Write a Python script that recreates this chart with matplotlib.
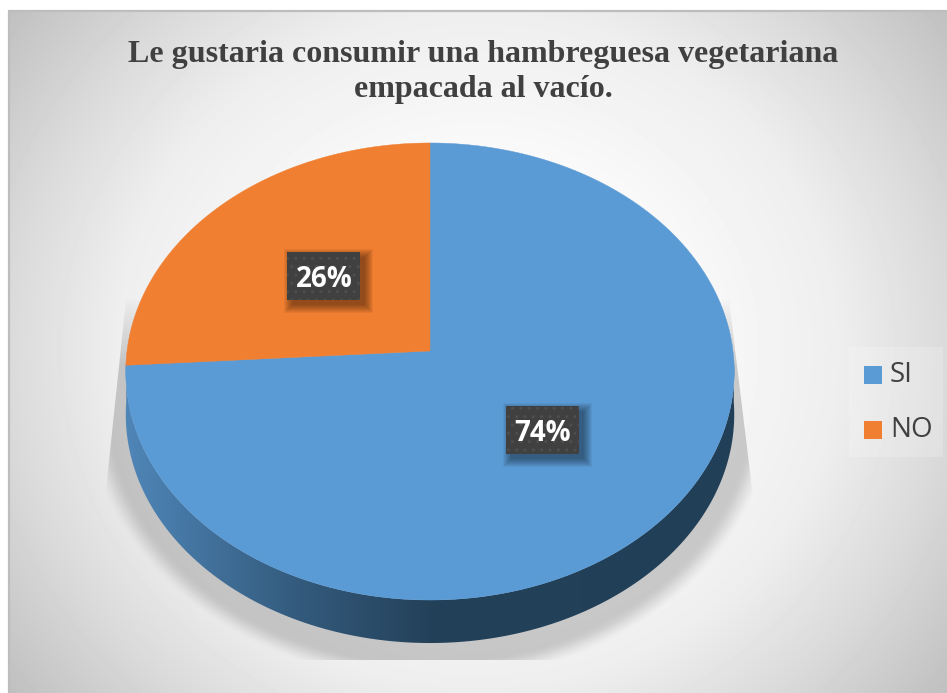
import numpy as np
import matplotlib
matplotlib.use("Agg")
import matplotlib.pyplot as plt
from matplotlib.patches import Polygon, Rectangle

title = "Le gustaria consumir una hambreguesa vegetariana\nempacada al vacío."
categories = ["SI", "NO"]
values = [74, 26]
colors = ["#5B9BD5", "#F07F31"]
W, H = 947, 693

fig = plt.figure(figsize=(W / 100, H / 100), dpi=100, facecolor="white")
ax = fig.add_axes([0, 0, 1, 1])
ax.set_xlim(0, W)
ax.set_ylim(H, 0)
ax.axis("off")

# pixel grid for the gradients
gx, gy = np.meshgrid(np.arange(W) + 0.5, np.arange(H) + 0.5)


# tilted disc with some perspective, angle is clockwise from the top
def disc(theta, r=1.0):
    u = r * np.sin(theta)
    v = r * np.cos(theta)
    d = 1 + 0.0897 * v
    return 430 + 303 * u / d, (351 - 195.2 * v) / d


# background, radial grey
rr = np.hypot((gx - 478) / 470, (gy - 350) / 440)
bg = np.interp(rr, [0.3, 0.57, 0.77, 1.0, 1.26], [255, 245, 238, 218, 192]) / 255
bg_im = ax.imshow(bg, cmap="gray", vmin=0, vmax=1, extent=(0, W, H, 0), aspect="auto", zorder=0)
bg_im.set_clip_path(Rectangle((8, 10), W - 8, H - 10, transform=ax.transData))
ax.plot([8.5, 8.5, W], [H, 10.5, 10.5], color="#BDBDBD", lw=1.6, zorder=1)

# soft shadow under the pie, cut off by a trapezoid and faded towards the top
rho = np.hypot((gx - 430) / 330, (gy - 400) / 270)
fade = np.clip((1.05 - rho) / 0.08, 0, 1)
fade = fade * fade * (3 - 2 * fade)
shadow = np.zeros((H, W, 4))
shadow[..., 3] = 0.18 * fade * np.clip((gy - 295) / 70, 0, 1)
shadow_im = ax.imshow(shadow, extent=(0, W, H, 0), aspect="auto", zorder=2)
trap = Polygon([(126, 300), (729, 300), (773, 660), (88, 660)], closed=True, transform=ax.transData)
shadow_im.set_clip_path(trap)

# side wall
depth = 43
t = np.radians(np.linspace(92, 268, 300))
wx, wy = disc(t)
wall_pts = np.vstack([np.column_stack([wx, wy]), np.column_stack([wx[::-1], wy[::-1] + depth])])
stops_x = [126, 300, 430, 734]
stops_r = [0x4F, 0x33, 0x24, 0x22]
stops_g = [0x86, 0x5A, 0x41, 0x3F]
stops_b = [0xB8, 0x7C, 0x5A, 0x58]
line = np.arange(W) + 0.5
wall = np.dstack([
    np.interp(line, stops_x, stops_r) / 255,
    np.interp(line, stops_x, stops_g) / 255,
    np.interp(line, stops_x, stops_b) / 255,
])
wall_im = ax.imshow(wall, extent=(0, W, H, 0), aspect="auto", zorder=3)
wall_im.set_clip_path(Polygon(wall_pts, closed=True, transform=ax.transData))

# top of the pie
fractions = np.array(values) / sum(values)
edges = np.concatenate([[0], np.cumsum(fractions)]) * 2 * np.pi
for i in range(len(values)):
    t = np.linspace(edges[i], edges[i + 1], 300)
    x, y = disc(t)
    x0, y0 = disc(0.0, 0.0)
    pts = np.column_stack([np.r_[x0, x], np.r_[y0, y]])
    ax.add_patch(Polygon(pts, closed=True, fc=colors[i], ec=colors[i], lw=0.3, zorder=4))

# value labels on dark boxes
for i in range(len(values)):
    mid = (edges[i] + edges[i + 1]) / 2
    cx, cy = disc(mid, 0.495)
    bw, bh = 73, 48
    for grow in range(8, -1, -1):
        ax.add_patch(Rectangle((cx - bw / 2 + 5 - grow, cy - bh / 2 + 5 - grow), bw + 2 * grow, bh + 2 * grow,
                               fc="black", ec="none", alpha=0.05, zorder=5))
    ax.add_patch(Rectangle((cx - bw / 2, cy - bh / 2), bw, bh, fc="#404040", ec="#4E4E4E", lw=0, hatch="..", zorder=6))
    ax.text(cx, cy + 3, f"{values[i]}%", color="white", fontsize=20, fontweight="bold",
            family="Open Sans", ha="center", va="center", zorder=7)

# title
ax.text(483, 72, title, family="Liberation Serif", fontweight="bold", fontsize=23, color="#404040",
        ha="center", va="center", linespacing=1.25, zorder=8)

# legend
ax.add_patch(Rectangle((849, 347), 94, 110, fc="white", ec="none", alpha=0.2, zorder=8))
for i, name in enumerate(categories):
    ly = 375 + i * 55
    ax.add_patch(Rectangle((864, ly - 9), 18, 18, fc=colors[i], ec="none", zorder=9))
    ax.text(890, ly, name, family="Open Sans", fontsize=20, color="#404040", ha="left", va="center", zorder=9)

fig.savefig("out.png", dpi=100)
